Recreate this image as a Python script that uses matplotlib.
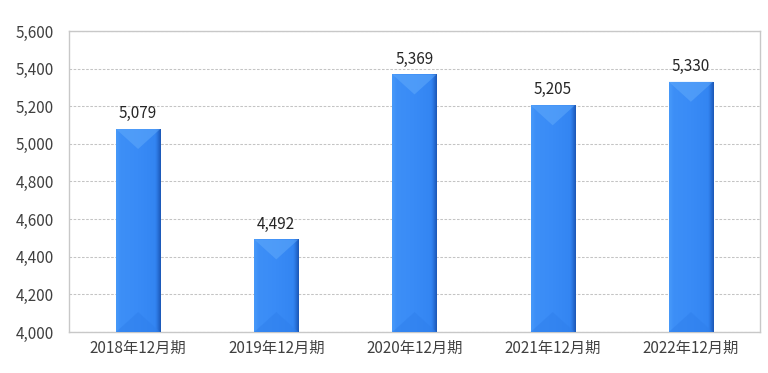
import numpy as np
import matplotlib.pyplot as plt
from matplotlib.patches import Polygon
from matplotlib.colors import LinearSegmentedColormap

plt.rcParams['font.family'] = ['Noto Sans CJK JP', 'DejaVu Sans']

categories = ["2018年12月期", "2019年12月期", "2020年12月期", "2021年12月期", "2022年12月期"]
values = [5079, 4492, 5369, 5205, 5330]
yticks = [4000, 4200, 4400, 4600, 4800, 5000, 5200, 5400, 5600]

fig = plt.figure(figsize=(7.68, 3.73), dpi=100)
ax = fig.add_axes([69/768, 1 - 332/373, 691/768, 301/373])

x = np.arange(len(categories))
bars = ax.bar(x, values, width=0.32, color='#3a8cf6', zorder=3)
ax.set_ylim(4000, 5600)
ax.set_xlim(-0.5, len(categories) - 0.5)

cmap = LinearSegmentedColormap.from_list(
    'bevel', [(0, '#4799f9'), (0.1, '#3d8ff7'), (0.5, '#398bf6'),
              (0.88, '#3385f2'), (0.93, '#2a74de'), (1, '#1d59b8')])
grad = np.linspace(0, 1, 88).reshape(1, -1)

# bevel look: horizontal gradient plus light/dark triangles top and bottom
for b in bars:
    x0, w, h = b.get_x(), b.get_width(), b.get_height()
    y0 = 4000
    ey = 1600 * 20 / 301
    im = ax.imshow(grad, cmap=cmap, aspect='auto', extent=(x0, x0 + w, y0, h),
                   zorder=4, interpolation='bilinear')
    im.set_clip_path(b)
    ax.add_patch(Polygon([(x0, h), (x0 + w, h), (x0 + w / 2, h - ey)],
                         closed=True, color='#63acfb', alpha=0.5, zorder=5, lw=0))
    ax.add_patch(Polygon([(x0, y0), (x0 + w, y0), (x0 + w / 2, y0 + ey)],
                         closed=True, color='#2f7fec', alpha=0.5, zorder=5, lw=0))
    ax.annotate(f"{h:,.0f}", (x0 + w / 2, h), xytext=(0, 5), textcoords='offset points',
                ha='center', va='bottom', fontsize=11, color='#262626', zorder=6)

ax.set_yticks(yticks)
ax.set_yticklabels([f"{v:,}" for v in yticks])
ax.set_xticks(x)
ax.set_xticklabels(categories)
ax.tick_params(axis='both', length=0, labelsize=11, colors='#404040')
ax.tick_params(axis='y', pad=11)
ax.tick_params(axis='x', pad=6)
ax.yaxis.grid(True, color='#c4c4c4', linestyle=(0, (2.5, 1.5)), linewidth=0.75, zorder=0)
for s in ax.spines.values():
    s.set_color('#c8c8c8')
    s.set_linewidth(1)

fig.savefig("out.png", dpi=100)
